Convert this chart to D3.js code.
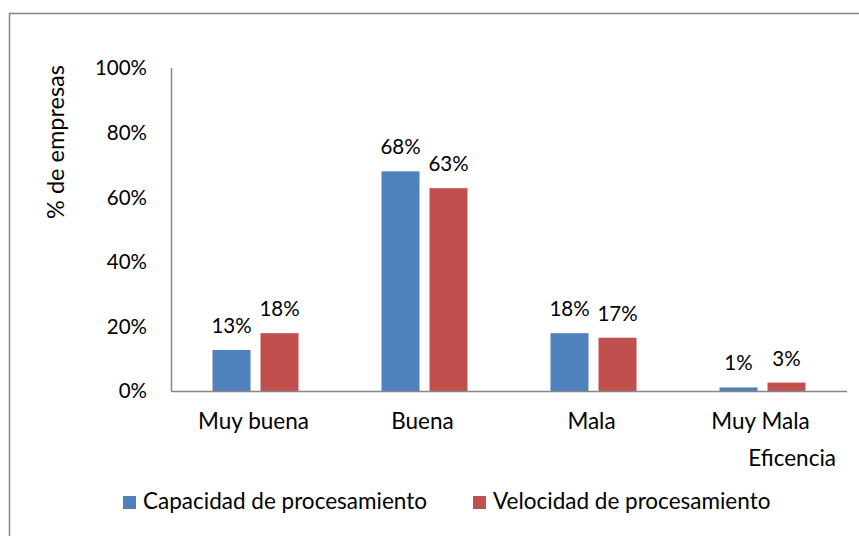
<!DOCTYPE html>
<html><head><meta charset="utf-8">
<script src="https://cdn.jsdelivr.net/npm/d3@7"></script>
<style>body{margin:0;background:#fff}svg{display:block}text{font-family:Lato,"Open Sans",sans-serif;fill:#000}</style>
</head><body><svg id="c" width="859" height="536"></svg>
<script>
const categories = ["Muy buena", "Buena", "Mala", "Muy Mala"];
const seriesNames = ["Capacidad de procesamiento", "Velocidad de procesamiento"];
const capacidad = [12.7, 68, 17.9, 1.1];
const velocidad = [17.9, 62.8, 16.5, 2.6];
const labelsCap = ["13%", "68%", "18%", "1%"];
const labelsVel = ["18%", "63%", "17%", "3%"];
const yTicks = [0, 20, 40, 60, 80, 100];
const colors = ["#4F81BD", "#C0504D"];

const svg = d3.select("#c");
// outer chart border (extends past the window)
svg.append("rect").attr("x", 9.5).attr("y", 13.5).attr("width", 900).attr("height", 600)
  .attr("fill", "none").attr("stroke", "#868686").attr("stroke-width", 1.5);

const L = 171, R = 847, T = 68, B = 391;
const x0 = d3.scaleBand().domain(categories).range([L, R]).padding(0);
const y = d3.scaleLinear().domain([0, 100]).range([B, T]);
const numSize = 20.5, wordSize = 22.5;

// y tick labels
svg.append("g").selectAll("text").data(yTicks).join("text")
  .attr("x", L - 24).attr("y", d => y(d)).attr("dy", "0.36em")
  .attr("text-anchor", "end").attr("font-size", numSize).text(d => d + "%");

const series = [capacidad, velocidad];
const labels = [labelsCap, labelsVel];
const bw = 38, gap = 10;
series.forEach((vals, s) => {
  const g = svg.append("g");
  const xOf = (c) => x0(c) + x0.bandwidth() / 2 + (s === 0 ? -gap / 2 - bw : gap / 2);
  g.selectAll("rect").data(categories).join("rect")
    .attr("x", (c) => xOf(c)).attr("width", bw)
    .attr("y", (c, i) => y(vals[i])).attr("height", (c, i) => B - y(vals[i]))
    .attr("fill", colors[s]);
  g.selectAll("text").data(categories).join("text")
    .attr("x", (c) => xOf(c) + bw / 2).attr("y", (c, i) => y(vals[i]) - 17)
    .attr("text-anchor", "middle").attr("font-size", numSize).text((c, i) => labels[s][i]);
});

// axes lines
svg.append("line").attr("x1", L + 0.5).attr("x2", L + 0.5).attr("y1", T).attr("y2", B)
  .attr("stroke", "#868686").attr("stroke-width", 1.5);
svg.append("line").attr("x1", L).attr("x2", R).attr("y1", B + 0.5).attr("y2", B + 0.5)
  .attr("stroke", "#868686").attr("stroke-width", 1.5);

// category labels
svg.append("g").selectAll("text").data(categories).join("text")
  .attr("x", c => x0(c) + x0.bandwidth() / 2 - 2).attr("y", 429)
  .attr("text-anchor", "middle").attr("font-size", wordSize).text(c => c);

// axis titles
svg.append("text").attr("x", 836).attr("y", 466).attr("text-anchor", "end")
  .attr("font-size", wordSize).text("Eficencia");
svg.append("text").attr("transform", "translate(64,142) rotate(-90)")
  .attr("text-anchor", "middle").attr("font-size", 23.5).text("% de empresas");

// legend
const legX = [123, 473];
seriesNames.forEach((n, i) => {
  svg.append("rect").attr("x", legX[i]).attr("y", 496).attr("width", 13).attr("height", 13).attr("fill", colors[i]);
  svg.append("text").attr("x", legX[i] + 20).attr("y", 509).attr("font-size", wordSize).text(n);
});
</script></body></html>
